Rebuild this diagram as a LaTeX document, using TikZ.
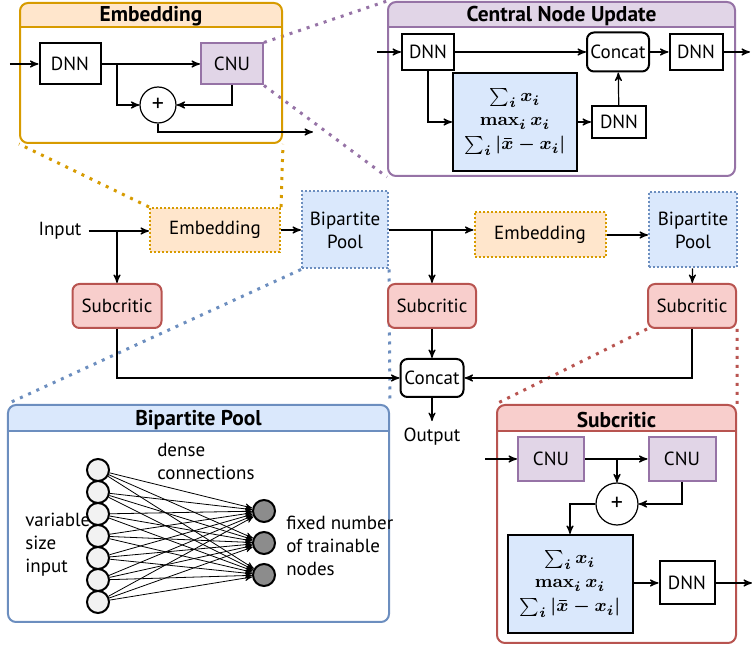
\documentclass[tikz,border=0pt]{standalone}
\usepackage[no-math]{fontspec}
\setmainfont{PT Sans}
\usepackage{amsmath}
\usepackage{bm}
\usepackage{tikz}
\usetikzlibrary{arrows}
\definecolor{embfill}{HTML}{FFE6CC}
\definecolor{embdraw}{HTML}{D79B00}
\definecolor{cnufill}{HTML}{E1D5E7}
\definecolor{cnudraw}{HTML}{9673A6}
\definecolor{bpfill}{HTML}{DAE8FC}
\definecolor{bpdraw}{HTML}{6C8EBF}
\definecolor{subfill}{HTML}{F8CECC}
\definecolor{subdraw}{HTML}{B85450}
\pgfdeclarelayer{background}
\pgfsetlayers{background,main}

\begin{document}
\begin{tikzpicture}[-,>=stealth',semithick,x=0.5pt,y=-0.5pt,
                    font=\fontsize{9.5}{11.5}\selectfont]
  \tikzstyle{box}=[draw=black,line width=1pt,fill=white,inner sep=2pt]
  \tikzstyle{cnubox}=[draw=cnudraw,fill=cnufill,line width=1pt]
  \tikzstyle{sumnode}=[circle,draw=black,fill=white,minimum size=18pt,inner sep=0pt,
                       font=\fontsize{12}{12}\selectfont]
  \tikzstyle{agg}=[draw=black,fill=bpfill,line width=1pt,align=center,
                   font=\fontsize{9.5}{11.5}\selectfont\boldmath]
  \tikzstyle{embnode}=[draw=embdraw,fill=embfill,densely dotted,line width=1pt]
  \tikzstyle{poolnode}=[draw=bpdraw,fill=bpfill,densely dotted,line width=1pt,align=center]
  \tikzstyle{subnode}=[draw=subdraw,fill=subfill,rounded corners=3.5pt,line width=1pt]
  \tikzstyle{concatnode}=[draw=black,fill=white,rounded corners=3.5pt,line width=1pt,inner sep=1pt]
  \tikzstyle{panel}=[rounded corners=4pt,line width=1pt]
  \tikzstyle{zoomline}=[line width=1.5pt,dash pattern=on 1.5pt off 3pt]
  \tikzstyle{title}=[font=\fontsize{10.7}{12}\selectfont\bfseries]
  \tikzstyle{neuron}=[circle,draw=black,line width=1pt,minimum size=11pt,inner sep=0pt]

  \useasboundingbox (0,0) rectangle (752,647);

  % embedding panel
  \begin{scope}
    \clip[rounded corners=4pt] (20,3) rectangle (282,143);
    \fill[embfill] (20,3) rectangle (282,27);
  \end{scope}
  \node[panel,draw=embdraw,minimum width=131pt,minimum height=70pt] (embpanel) at (151,73) {};
  \draw[embdraw,line width=1pt] (20,27) -- (282,27);
  \node[title] (embtitle) at (151,16) {Embedding};

  \coordinate (ein) at (10,64);
  \node[box,minimum width=30.5pt,minimum height=20.5pt] (ednn) at (70,64) {DNN};
  \node[cnubox,minimum width=31pt,minimum height=20.5pt] (ecnu) at (232,64) {CNU};
  \node[sumnode] (eplus) at (158,105) {+};
  \coordinate (ebranch) at (117,64);
  \coordinate (eout) at (313,132);

  \draw[->] (ein) -- (ednn);
  \draw[->] (ednn) -- (ecnu);
  \draw[->] (ebranch) |- (eplus);
  \draw[->] (ecnu) |- (eplus);
  \draw[->] (eplus) |- (eout);

  % central node update panel
  \begin{scope}
    \clip[rounded corners=4pt] (388,2) rectangle (735,176);
    \fill[cnufill] (388,2) rectangle (735,27);
  \end{scope}
  \node[panel,draw=cnudraw,minimum width=173.5pt,minimum height=87pt] (cnupanel) at (561.5,89) {};
  \draw[cnudraw,line width=1pt] (388,27) -- (735,27);
  \node[title] (cnutitle) at (561.5,16) {Central Node Update};

  \coordinate (cin) at (377,52);
  \node[box,minimum width=26pt,minimum height=18pt] (cdnna) at (428,52) {DNN};
  \node[concatnode,minimum width=31pt,minimum height=19.5pt] (cconcat) at (618,52) {Concat};
  \node[box,minimum width=26.5pt,minimum height=18pt] (cdnnb) at (696,52) {DNN};
  \node[agg,minimum width=62pt,minimum height=49pt] (cagg) at (515,122)
       {$\sum_i x_i$\\[0.5pt]$\max_i x_i$\\[0.5pt]$\sum_i |\bar{x}-x_i|$};
  \node[box,minimum width=27pt,minimum height=16pt] (cdnnc) at (619,122) {DNN};
  \coordinate (cout) at (750,52);

  \draw[->] (cin) -- (cdnna);
  \draw[->] (cdnna) -- (cconcat);
  \draw[->] (cconcat) -- (cdnnb);
  \draw[->] (cdnnb) -- (cout);
  \draw[->] (cdnna) |- (cagg);
  \draw[->] (cagg) -- (cdnnc);
  \draw[->] (cdnnc) -- (cconcat);

  % main flow
  \node (input) at (60,231) {Input};
  \node[embnode,minimum width=65pt,minimum height=22pt] (emba) at (215,230) {Embedding};
  \node[poolnode,minimum width=43pt,minimum height=38.5pt] (bpa) at (345,230) {Bipartite\\Pool};
  \node[subnode,minimum width=44.5pt,minimum height=22pt] (suba) at (117,306) {Subcritic};
  \node[embnode,minimum width=65.5pt,minimum height=22.5pt] (embb) at (540,235) {Embedding};
  \node[poolnode,minimum width=44pt,minimum height=37.5pt] (bpb) at (693,230) {Bipartite\\Pool};
  \node[subnode,minimum width=44pt,minimum height=22pt] (subb) at (432,306) {Subcritic};
  \node[subnode,minimum width=44pt,minimum height=22pt] (subc) at (692,306) {Subcritic};
  \node[concatnode,minimum width=31.5pt,minimum height=19pt] (concat) at (432,378) {Concat};
  \node (output) at (432,437) {Output};

  \draw[->] (input) -- (input -| emba.west);
  \draw[->] (input -| suba) -- (suba);
  \draw[->] (emba) -- (bpa);
  \draw[->] (bpa.east) -- (bpa.east -| embb.west);
  \draw[->] (bpa.east -| subb) -- (subb);
  \draw[->] (embb.east) -- (embb.east -| bpb.west);
  \draw[->] (bpb) -- (subc);
  \draw[->] (suba) |- (concat);
  \draw[->] (subb) -- (concat);
  \draw[->] (subc) |- (concat);
  \draw[->] (concat) -- (output);

  % bipartite pool panel
  \begin{scope}
    \clip[rounded corners=4pt] (8,405) rectangle (389,622);
    \fill[bpfill] (8,405) rectangle (389,431);
  \end{scope}
  \node[panel,draw=bpdraw,minimum width=190.5pt,minimum height=108.5pt] (bppanel) at (198.5,513.5) {};
  \draw[bpdraw,line width=1pt] (8,431) -- (389,431);
  \node[title] (bptitle) at (198.5,420) {Bipartite Pool};

  \foreach \i in {1,...,7}
    \node[neuron,fill=black!5] (l\i) at (98,{470+22*(\i-1)}) {};
  \foreach \j in {1,2,3}
    \node[neuron,fill=black!45] (r\j) at (264,{511+32*(\j-1)}) {};
  \foreach \i in {1,...,7}
    \foreach \j in {1,2,3}
      \draw[->,thin] (l\i) -- (r\j);

  \node[align=left,anchor=west] (densetext) at (150,461) {dense\\connections};
  \node[align=left,anchor=west] (vartext) at (18,545) {variable\\size\\input};
  \node[align=left,anchor=west] (fixedtext) at (279,546) {fixed number\\of trainable\\nodes};

  % subcritic panel
  \begin{scope}
    \clip[rounded corners=4pt] (497,405) rectangle (736,643);
    \fill[subfill] (497,405) rectangle (736,431);
  \end{scope}
  \node[panel,draw=subdraw,minimum width=119.5pt,minimum height=119pt] (subpanel) at (616.5,524) {};
  \draw[subdraw,line width=1pt] (497,431) -- (736,431);
  \node[title] (subtitle) at (616.5,420) {Subcritic};

  \coordinate (sin) at (485,459);
  \node[cnubox,minimum width=33pt,minimum height=22pt] (scnua) at (551,459) {CNU};
  \node[cnubox,minimum width=33.5pt,minimum height=22pt] (scnub) at (682,459) {CNU};
  \node[sumnode,minimum size=21pt] (splus) at (617,504) {+};
  \node[agg,minimum width=62.5pt,minimum height=49pt] (sagg) at (570,584)
       {$\sum_i x_i$\\[0.5pt]$\max_i x_i$\\[0.5pt]$\sum_i |\bar{x}-x_i|$};
  \node[box,minimum width=27.5pt,minimum height=21.5pt] (sdnn) at (687,583) {DNN};
  \coordinate (sout) at (752,583);

  \draw[->] (sin) -- (scnua);
  \draw[->] (scnua) -- (scnub);
  \draw[->] (splus |- scnua) -- (splus);
  \draw[->] (scnub) |- (splus);
  \draw[->] (splus) -| (sagg);
  \draw[->] (sagg.east |- sdnn) -- (sdnn);
  \draw[->] (sdnn) -- (sout);

  % zoom lines
  \begin{pgfonlayer}{background}
    \draw[zoomline,embdraw] (emba.north west) -- (embpanel.south west)
                            (emba.north east) -- (embpanel.south east);
    \draw[zoomline,cnudraw] (ecnu.north east) -- (cnupanel.north west)
                            (ecnu.south east) -- (cnupanel.south west);
    \draw[zoomline,bpdraw] (bpa.south west) -- (bppanel.north west)
                           (bpa.south east) -- (bppanel.north east);
    \draw[zoomline,subdraw] (subc.south west) -- (subpanel.north west)
                            (subc.south east) -- (subpanel.north east);
  \end{pgfonlayer}
\end{tikzpicture}
\end{document}
